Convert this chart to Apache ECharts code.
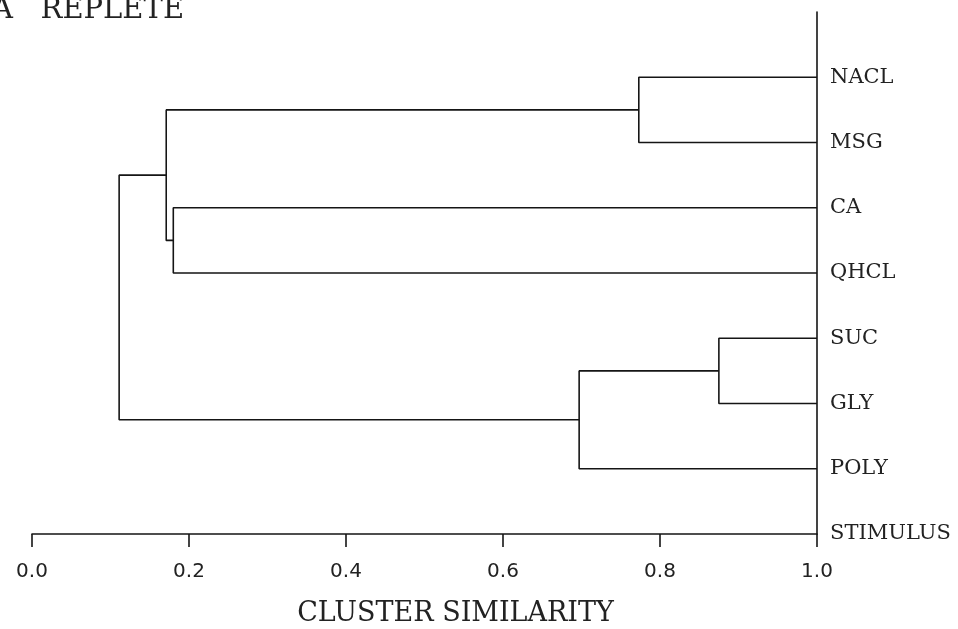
<!DOCTYPE html>
<html>
<head>
<meta charset="utf-8">
<script src="https://cdn.jsdelivr.net/npm/echarts@6/dist/echarts.min.js"></script>
<style>
  html, body { margin: 0; padding: 0; background: #fff; }
  #chart { width: 958px; height: 629px; }
</style>
</head>
<body>
<div id="chart"></div>
<script>
// leaves from top to bottom; STIMULUS sits on the x axis row
const leaves = ["NACL", "MSG", "CA", "QHCL", "SUC", "GLY", "POLY"];
const axisRowLabel = "STIMULUS";
const xTicks = [0, 0.2, 0.4, 0.6, 0.8, 1.0];

// merges: [childA, childB, similarity]; leaf = its name, merge = "m" + index
const mergeLeft = ["NACL", "CA", "m0", "SUC", "m3", "m2"];
const mergeRight = ["MSG", "QHCL", "m1", "GLY", "POLY", "m4"];
const mergeHeight = [0.773, 0.180, 0.171, 0.875, 0.697, 0.111];

const chart = echarts.init(document.getElementById("chart"));

// y value of each leaf: NACL = 7 ... POLY = 1, STIMULUS = 0
const rowLabels = [axisRowLabel].concat(leaves.slice().reverse());
const node = {};
leaves.forEach((name, i) => {
  node[name] = { x: 1.0, y: leaves.length - i };
});

const series = [];
mergeHeight.forEach((h, i) => {
  const a = node[mergeLeft[i]];
  const b = node[mergeRight[i]];
  node["m" + i] = { x: h, y: (a.y + b.y) / 2 };
  series.push({
    type: "line",
    symbol: "none",
    silent: true,
    animation: false,
    lineStyle: { color: "#151515", width: 1.6 },
    data: [[a.x, a.y], [h, a.y], [h, b.y], [b.x, b.y]]
  });
});

const option = {
  backgroundColor: "#ffffff",
  title: {
    text: "A   REPLETE",
    left: -13,
    top: -9,
    textStyle: {
      fontFamily: "DejaVu Serif",
      fontWeight: "normal",
      fontSize: 29,
      color: "#222"
    }
  },
  grid: { left: 32, right: 141, top: 12, bottom: 95, outerBoundsMode: "none", containLabel: false },
  xAxis: {
    type: "value",
    min: 0,
    max: 1,
    interval: 0.2,
    name: "CLUSTER SIMILARITY",
    nameLocation: "middle",
    nameGap: 66,
    nameTextStyle: {
      fontFamily: "DejaVu Serif",
      fontSize: 27,
      color: "#222",
      padding: [0, 0, 0, 62]
    },
    axisLine: { show: true, lineStyle: { color: "#151515", width: 1.6 } },
    axisTick: { show: true, inside: false, length: 13, lineStyle: { color: "#151515", width: 1.6 } },
    axisLabel: {
      margin: 28,
      fontFamily: "DejaVu Sans",
      fontSize: 20,
      color: "#222",
      formatter: v => xTicks.includes(+v.toFixed(1)) ? v.toFixed(1) : ""
    },
    splitLine: { show: false }
  },
  yAxis: {
    type: "value",
    position: "right",
    min: 0,
    max: 8,
    interval: 1,
    axisLine: { show: true, onZero: false, lineStyle: { color: "#151515", width: 1.6 } },
    axisTick: { show: false },
    axisLabel: {
      margin: 13,
      fontFamily: "DejaVu Serif",
      fontSize: 21,
      color: "#222",
      formatter: v => rowLabels[v] || ""
    },
    splitLine: { show: false }
  },
  series: series
};

chart.setOption(option);
</script>
</body>
</html>
